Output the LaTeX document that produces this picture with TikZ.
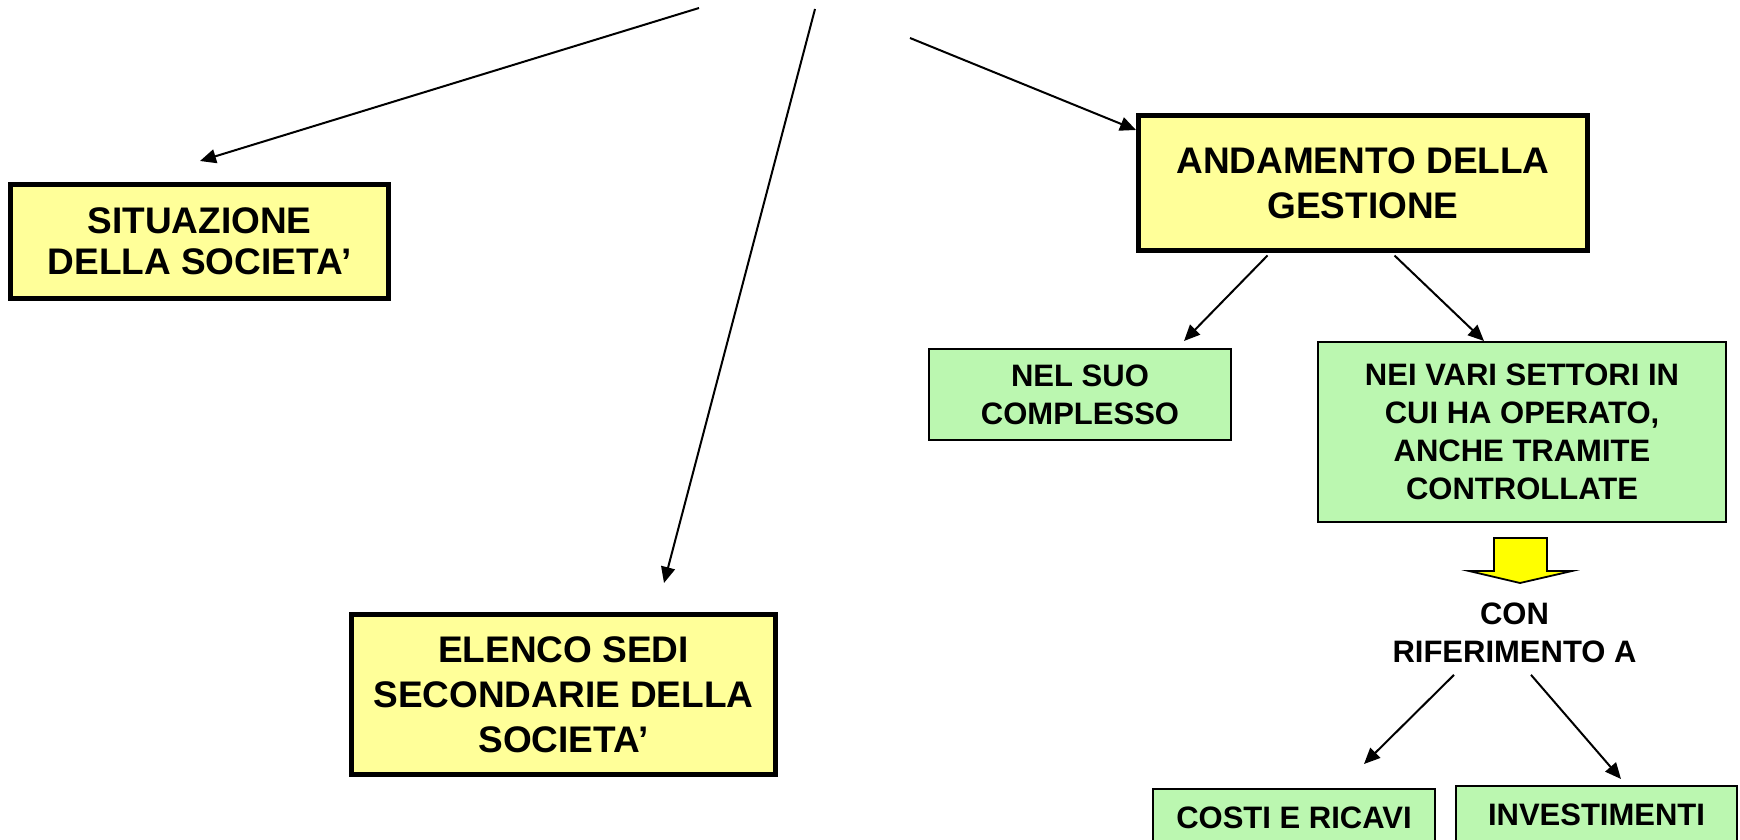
\documentclass[tikz,border=0pt]{standalone}
\usepackage{fontspec}
\setmainfont{Liberation Sans}
\usetikzlibrary{arrows.meta,calc}
\definecolor{lyellow}{RGB}{255,255,153}
\definecolor{lgreen}{RGB}{187,247,176}
\definecolor{byellow}{RGB}{255,255,0}
\begin{document}
\begin{tikzpicture}[x=0.5pt,y=-0.5pt,
  ybox/.style={draw=black, line width=2.5pt, fill=lyellow, inner sep=0pt, align=center,
    font=\fontsize{18.5}{22.5}\selectfont\bfseries},
  gbox/.style={draw=black, line width=0.9pt, fill=lgreen, inner sep=0pt, align=center,
    font=\fontsize{15.5}{19}\selectfont\bfseries},
  gtext/.style={inner sep=0pt, align=center, font=\fontsize{15.5}{19}\selectfont\bfseries},
  conn/.style={line width=1pt, -{Triangle[length=8pt,width=7pt]}},
  blockarrow/.style={draw=black, fill=byellow, line width=0.9pt, line join=miter}]
\useasboundingbox (0,0) rectangle (1740,840);
\clip (0,0) rectangle (1740,840);

% boxes
\node[ybox, minimum width=189pt, minimum height=57pt,
  font=\fontsize{18.5}{20.5}\selectfont\bfseries] (sit) at (199.5,241.5) {SITUAZIONE\\DELLA SOCIETA’};
\node[ybox, minimum width=224.5pt, minimum height=67.5pt] (and) at (1363,183) {ANDAMENTO DELLA\\GESTIONE};
\node[ybox, minimum width=212pt, minimum height=80pt] (ele) at (563.5,694.5) {ELENCO SEDI\\SECONDARIE DELLA\\SOCIETA’};
\node[gbox, minimum width=151pt, minimum height=45.5pt] (nel) at (1080,394.5) {NEL SUO\\COMPLESSO};
\node[gbox, minimum width=204pt, minimum height=90pt] (nei) at (1522,432) {NEI VARI SETTORI IN\\CUI HA OPERATO,\\ANCHE TRAMITE\\CONTROLLATE};
\node[gbox, minimum width=141pt, minimum height=28.5pt] (cos) at (1294,817.5) {COSTI E RICAVI};
\node[gbox, minimum width=140.5pt, minimum height=29pt] (inv) at (1596.5,815) {INVESTIMENTI};
\node[gtext] (con) at (1514.5,632.5) {CON\\RIFERIMENTO A};

% yellow block arrow
\draw[blockarrow] (1494,538) -- (1547,538) -- (1547,571) -- (1572,571) -- (1520,583)
  -- (1469,571) -- (1494,571) -- cycle;

% free ends and tips
\coordinate (s1) at (699,8);
\coordinate (t1) at (200,161);
\coordinate (s2) at (815,9);
\coordinate (t2) at (664,583);
\coordinate (s3) at (910,38);
\coordinate (t3) at (1136,130);
\coordinate (t4) at (1184,341);
\coordinate (t5) at (1484,341);
\coordinate (t6) at (1364,764);
\coordinate (t7) at (1621,779);

% connectors
\draw[conn] (s1) -- (t1);
\draw[conn] (s2) -- (t2);
\draw[conn] (s3) -- (t3);
\draw[conn] ([xshift=65.75pt,yshift=-1.25pt]and.south west) -- (t4);
\draw[conn] ([xshift=129.25pt,yshift=-1.25pt]and.south west) -- (t5);
\draw[conn] ([xshift=-30.25pt,yshift=-6pt]con.south) -- (t6);
\draw[conn] ([xshift=8.25pt,yshift=-6pt]con.south) -- (t7);
\end{tikzpicture}
\end{document}
